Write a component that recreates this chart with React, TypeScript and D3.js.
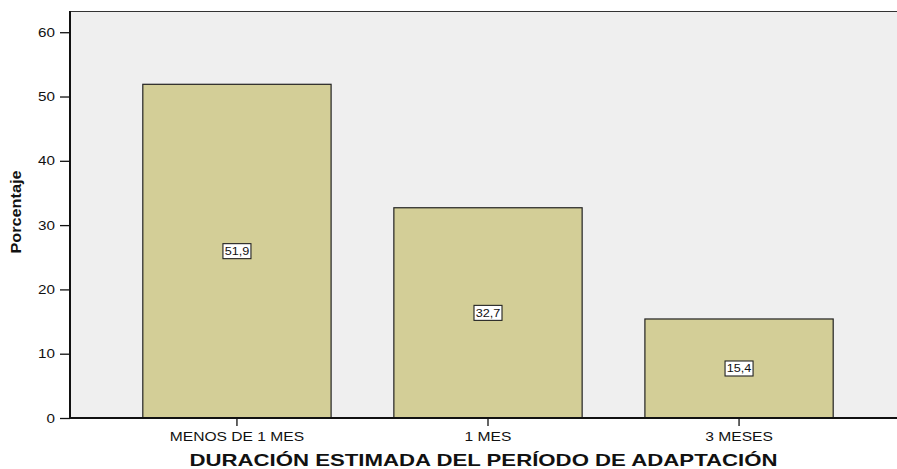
import { useEffect, useRef } from 'react'
import * as d3 from 'd3'

const categories = ['MENOS DE 1 MES', '1 MES', '3 MESES']
const percentages = [51.9, 32.7, 15.4]
const yTicks = [0, 10, 20, 30, 40, 50, 60]
const xTitle = 'DURACIÓN ESTIMADA DEL PERÍODO DE ADAPTACIÓN'
const yTitle = 'Porcentaje'

// the reference text is wider than Arial at the same height
function stretch(sel: d3.Selection<any, any, any, any>, factor: number) {
  sel.each(function () {
    const el = this as SVGTextElement
    const w = el.getComputedTextLength()
    el.setAttribute('textLength', String(w * factor))
    el.setAttribute('lengthAdjust', 'spacingAndGlyphs')
  })
}

export default function App() {
  const svgRef = useRef<SVGSVGElement>(null)
  const width = 897
  const height = 469

  useEffect(() => {
    if (!svgRef.current) return
    const svg = d3.select(svgRef.current)
    svg.selectAll('*').remove()

    // plot area runs a little past the right edge of the picture
    const margin = { top: 11, right: -9, bottom: 51, left: 70 }
    const chartWidth = width - margin.left - margin.right
    const chartHeight = height - margin.top - margin.bottom
    const font = 'Arial, "Liberation Sans", Helvetica, sans-serif'

    const data = categories.map((c, i) => ({ cat: c, value: percentages[i] }))

    const g = svg.append('g').attr('transform', `translate(${margin.left},${margin.top})`)

    const x = d3.scaleBand<string>()
      .domain(categories)
      .range([0, chartWidth])
      .paddingInner(0.25)
      .paddingOuter(0.29)

    const y = d3.scaleLinear().domain([0, 63.3]).range([chartHeight, 0])

    // plot background
    g.append('rect')
      .attr('width', chartWidth)
      .attr('height', chartHeight)
      .attr('fill', '#efefef')

    // top frame line
    g.append('line')
      .attr('x1', 0).attr('x2', chartWidth)
      .attr('y1', 0.5).attr('y2', 0.5)
      .attr('stroke', '#333').attr('stroke-width', 1.2)

    // bars
    g.selectAll('.bar')
      .data(data)
      .join('rect')
      .attr('class', 'bar')
      .attr('x', d => x(d.cat)!)
      .attr('y', d => y(d.value))
      .attr('width', x.bandwidth())
      .attr('height', d => chartHeight - y(d.value))
      .attr('fill', '#d3ce97')
      .attr('stroke', '#222')
      .attr('stroke-width', 1.2)

    // value labels in boxes
    const labels = g.selectAll('.lbl')
      .data(data)
      .join('g')
      .attr('class', 'lbl')
      .attr('transform', d => `translate(${x(d.cat)! + x.bandwidth() / 2},${y(d.value / 2)})`)

    labels.append('rect')
      .attr('x', -14).attr('y', -7.5)
      .attr('width', 28).attr('height', 15)
      .attr('fill', '#fff')
      .attr('stroke', '#222')
      .attr('stroke-width', 1.1)

    const valText = labels.append('text')
      .attr('text-anchor', 'middle')
      .attr('dy', '0.36em')
      .attr('font-family', font)
      .attr('font-size', 11)
      .attr('fill', '#111')
      .text(d => d.value.toFixed(1).replace('.', ','))
    stretch(valText, 1.15)

    // y axis
    const yAxis = g.append('g')
      .call(d3.axisLeft(y).tickValues(yTicks).tickSize(10).tickPadding(5).tickFormat(d3.format('d')))
    yAxis.select('.domain').remove()
    yAxis.selectAll('.tick line').attr('stroke', '#111').attr('stroke-width', 1.3)
    const yTickText = yAxis.selectAll('.tick text')
      .attr('font-family', font)
      .attr('font-size', 13)
      .attr('fill', '#111')
    stretch(yTickText as any, 1.17)
    g.append('line')
      .attr('x1', 0).attr('x2', 0)
      .attr('y1', 0).attr('y2', chartHeight)
      .attr('stroke', '#111').attr('stroke-width', 2)

    // x axis
    const xAxis = g.append('g')
      .attr('transform', `translate(0,${chartHeight})`)
      .call(d3.axisBottom(x).tickSize(8).tickPadding(6))
    xAxis.select('.domain').remove()
    xAxis.selectAll('.tick line').attr('stroke', '#111').attr('stroke-width', 1.3)
    const xTickText = xAxis.selectAll('.tick text')
      .attr('font-family', font)
      .attr('font-size', 13)
      .attr('fill', '#111')
    stretch(xTickText as any, 1.2)
    g.append('line')
      .attr('x1', 0).attr('x2', chartWidth)
      .attr('y1', chartHeight).attr('y2', chartHeight)
      .attr('stroke', '#111').attr('stroke-width', 2)

    // axis titles
    const xt = svg.append('text')
      .attr('x', 70 + 827 / 2)
      .attr('y', height - 3.5)
      .attr('text-anchor', 'middle')
      .attr('font-family', font)
      .attr('font-size', 16.5)
      .attr('font-weight', 'bold')
      .attr('fill', '#111')
      .text(xTitle)
    stretch(xt, 1.345)

    const yt = svg.append('text')
      .attr('transform', `translate(20.5,212) rotate(-90)`)
      .attr('text-anchor', 'middle')
      .attr('font-family', font)
      .attr('font-size', 14.5)
      .attr('font-weight', 'bold')
      .attr('fill', '#111')
      .text(yTitle)
    stretch(yt, 1.12)
  }, [])

  return (
    <div style={{ position: 'absolute', left: 0, top: 0, background: '#fff' }}>
      <svg ref={svgRef} width={width} height={height} style={{ display: 'block' }} />
    </div>
  )
}
